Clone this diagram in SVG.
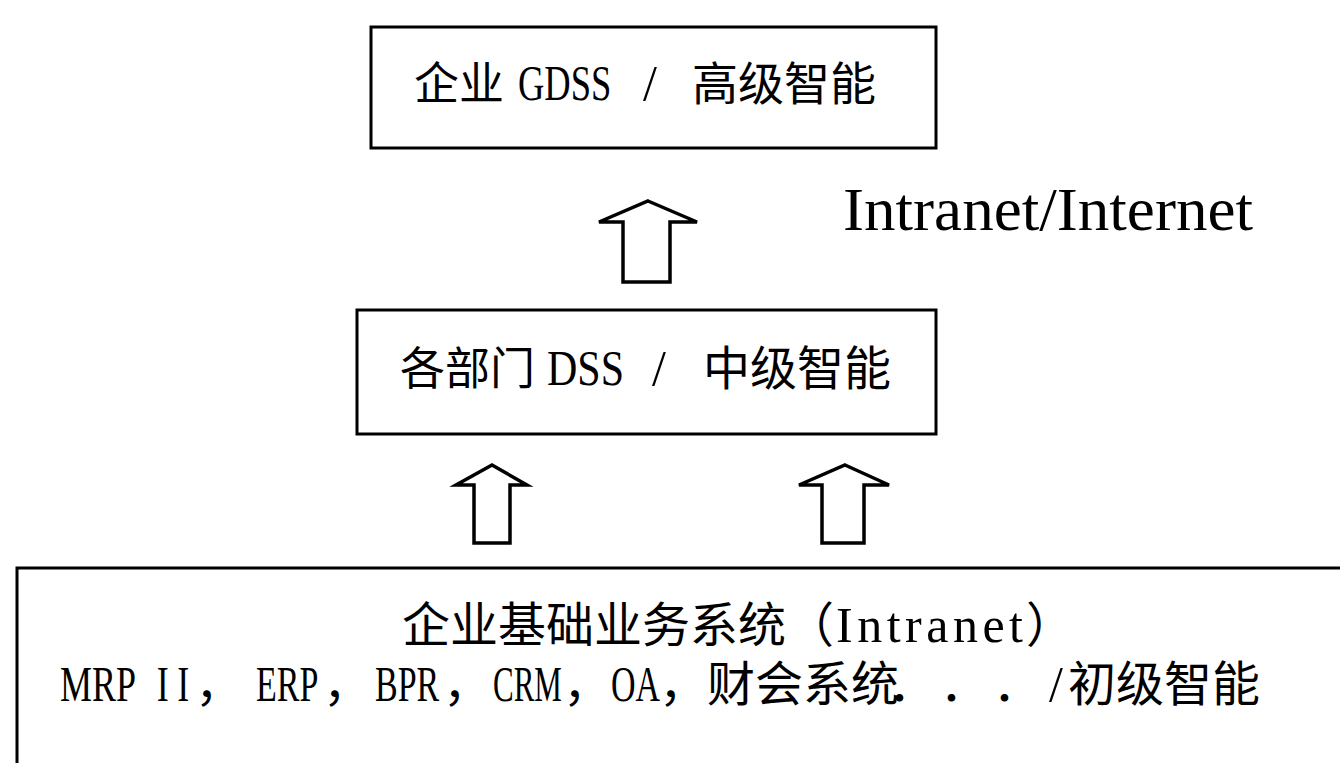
<svg xmlns="http://www.w3.org/2000/svg" width="1340" height="763" viewBox="0 0 1340 763">
<style>
.box{fill:#fff;stroke:#000;stroke-width:3}
.arrow{fill:#fff;stroke:#000;stroke-width:3.5;stroke-linejoin:miter}
.cjk{font-family:"Noto Sans CJK SC",sans-serif;fill:#000}
.lat{font-family:"Liberation Serif",serif;fill:#000}
.mix{font-family:"Liberation Serif","Noto Sans CJK SC",serif;fill:#000}
</style>
<rect width="1340" height="763" fill="#fff"/>
<g id="node-gdss">
<rect class="box" x="371" y="27" width="565" height="121"/>
<text class="cjk" x="414" y="100" font-size="45">企业</text>
<text class="lat" font-size="50" transform="translate(518,100) scale(0.73,1)">GDSS</text>
<text class="lat" font-size="50" transform="translate(643,100)">/</text>
<text class="cjk" x="692" y="100" font-size="46">高级智能</text>
</g>
<g id="node-dss">
<rect class="box" x="357" y="310" width="579" height="124"/>
<text class="cjk" x="400" y="385" font-size="45">各部门</text>
<text class="lat" font-size="50" transform="translate(547,385) scale(0.84,1)">DSS</text>
<text class="lat" font-size="50" transform="translate(652,385)">/</text>
<text class="cjk" x="703" y="385" font-size="47">中级智能</text>
</g>
<g id="node-base">
<rect class="box" x="17" y="568" width="1340" height="300"/>
<text class="mix" x="402" y="642" font-size="48">企业基础业务系统（</text>
<text class="lat" x="836" y="642" font-size="50" letter-spacing="4.5">Intranet</text>
<text class="mix" x="1026" y="642" font-size="48">）</text>
<text class="lat" font-size="50" transform="translate(60,701) scale(0.72,1)" word-spacing="18">MRP <tspan letter-spacing="12">II</tspan></text>
<text class="mix" x="195" y="701" font-size="48">，</text>
<text class="lat" font-size="50" transform="translate(256,701) scale(0.68,1)">ERP</text>
<text class="mix" x="323" y="701" font-size="48">，</text>
<text class="lat" font-size="50" transform="translate(375,701) scale(0.68,1)">BPR</text>
<text class="mix" x="443" y="701" font-size="48">，</text>
<text class="lat" font-size="50" transform="translate(493,701) scale(0.62,1)">CRM</text>
<text class="mix" x="563" y="701" font-size="48">，</text>
<text class="lat" font-size="50" transform="translate(611,701) scale(0.68,1)">OA</text>
<text class="mix" x="659 707 755 803 851 888 940 993" y="701" font-size="48">，财会系统．．．</text>
<text class="lat" font-size="50" transform="translate(1049,701)">/</text>
<text class="mix" x="1068" y="701" font-size="48">初级智能</text>
</g>
<g id="connectors">
<path class="arrow" d="M648,201 L697,222 L670,222 L670,282 L623,282 L623,222 L599,222 Z"/>
<path class="arrow" d="M492,465 L527,485 L510,485 L510,543 L474,543 L474,485 L456,485 Z"/>
<path class="arrow" d="M845,465 L889,485 L864,485 L864,543 L822,543 L822,485 L799,485 Z"/>
<text class="lat" x="843" y="230" font-size="61" textLength="410" lengthAdjust="spacingAndGlyphs">Intranet/Internet</text>
</g>
</svg>
